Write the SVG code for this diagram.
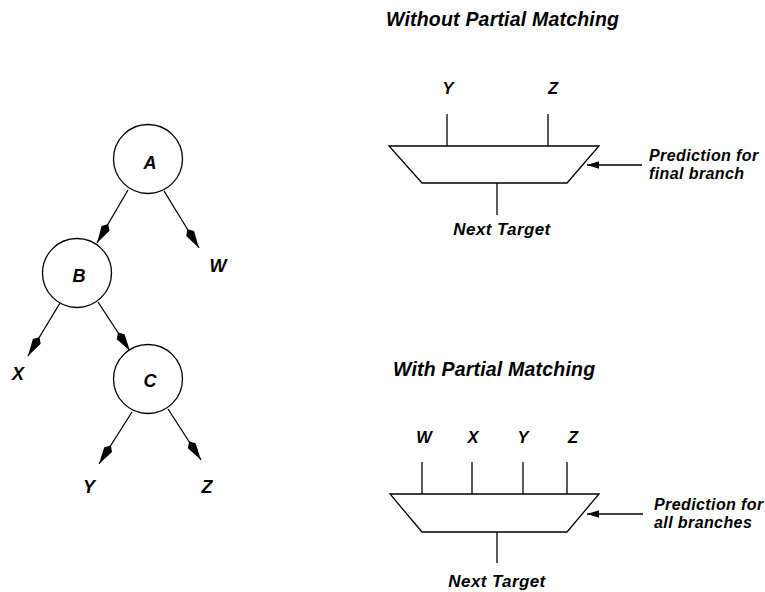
<svg xmlns="http://www.w3.org/2000/svg" width="765" height="592" viewBox="0 0 765 592">
  <style>
    .bg { fill: #ffffff; }
    .node { fill: #ffffff; stroke: #000000; stroke-width: 1.3; }
    .edge { fill: none; stroke: #000000; stroke-width: 1.3; }
    .mux { fill: #ffffff; stroke: #000000; stroke-width: 1.3; }
    text { font-family: "Liberation Sans", Arial, Helvetica, sans-serif; font-weight: bold; font-style: italic; fill: #000000; }
    .title { font-size: 19.5px; letter-spacing: 0.2px; }
    .label { font-size: 16px; letter-spacing: 0.4px; }
    .out { font-size: 17px; letter-spacing: 0.4px; text-anchor: middle; }
    .leaf { font-size: 18px; text-anchor: middle; }
    .pin { font-size: 16.5px; text-anchor: middle; }
  </style>
  <defs>
    <!-- kite-shaped filled head used on the tree edges -->
    <marker id="kite" markerUnits="userSpaceOnUse" viewBox="-23 -6 24 12" refX="0" refY="0" markerWidth="24" markerHeight="12" orient="auto" overflow="visible">
      <path d="M0,0 L-17,-4.6 L-22,0 L-17,4.6 Z" fill="#000000"/>
    </marker>
    <!-- plain filled triangle for the select inputs -->
    <marker id="tri" markerUnits="userSpaceOnUse" viewBox="-13 -5 14 10" refX="0" refY="0" markerWidth="14" markerHeight="10" orient="auto" overflow="visible">
      <path d="M0,0 L-12,-3.8 L-12,3.8 Z" fill="#000000"/>
    </marker>
  </defs>

  <rect class="bg" x="0" y="0" width="765" height="592"/>

  <!-- branch tree: connectors -->
  <g id="tree-edges">
    <line class="edge" x1="128" y1="190" x2="97" y2="243" marker-end="url(#kite)"/>
    <line class="edge" x1="164" y1="191" x2="199" y2="248" marker-end="url(#kite)"/>
    <line class="edge" x1="60" y1="303" x2="28" y2="356" marker-end="url(#kite)"/>
    <line class="edge" x1="98" y1="302" x2="130" y2="351" marker-end="url(#kite)"/>
    <line class="edge" x1="132" y1="412" x2="99" y2="464" marker-end="url(#kite)"/>
    <line class="edge" x1="168" y1="409" x2="201" y2="460" marker-end="url(#kite)"/>
  </g>

  <!-- branch tree: nodes -->
  <g id="node-A">
    <circle class="node" cx="148" cy="159" r="34.5"/>
    <text class="leaf" x="150" y="169">A</text>
  </g>
  <g id="node-B">
    <circle class="node" cx="77" cy="273" r="34.5"/>
    <text class="leaf" x="79" y="282">B</text>
  </g>
  <g id="node-C">
    <circle class="node" cx="148" cy="379" r="34.5"/>
    <text class="leaf" x="150" y="387">C</text>
  </g>
  <g id="leaf-W"><text class="leaf" x="218" y="272">W</text></g>
  <g id="leaf-X"><text class="leaf" x="18" y="380">X</text></g>
  <g id="leaf-Y"><text class="leaf" x="89" y="493">Y</text></g>
  <g id="leaf-Z"><text class="leaf" x="207" y="493">Z</text></g>

  <!-- selector without partial matching -->
  <g id="mux-final">
    <text class="title" x="386" y="26">Without Partial Matching</text>
    <g id="mux-final-wires">
      <line class="edge" x1="447" y1="114" x2="447" y2="146"/>
      <line class="edge" x1="548" y1="114" x2="548" y2="146"/>
      <line class="edge" x1="497" y1="183" x2="497" y2="215"/>
      <line class="edge" x1="642" y1="165" x2="587" y2="165" marker-end="url(#tri)"/>
    </g>
    <polygon class="mux" points="389,146 599,146 567,183 422,183"/>
    <text class="pin" x="448" y="94">Y</text>
    <text class="pin" x="553" y="94">Z</text>
    <text class="label" x="649" y="161">Prediction for</text>
    <text class="label" x="649" y="179">final branch</text>
    <text class="out" x="502" y="235">Next Target</text>
  </g>

  <!-- selector with partial matching -->
  <g id="mux-all">
    <text class="title" x="393" y="376">With Partial Matching</text>
    <g id="mux-all-wires">
      <line class="edge" x1="422" y1="462" x2="422" y2="494"/>
      <line class="edge" x1="472" y1="462" x2="472" y2="494"/>
      <line class="edge" x1="523" y1="462" x2="523" y2="494"/>
      <line class="edge" x1="567" y1="462" x2="567" y2="494"/>
      <line class="edge" x1="497" y1="532" x2="497" y2="563"/>
      <line class="edge" x1="643" y1="514" x2="587" y2="514" marker-end="url(#tri)"/>
    </g>
    <polygon class="mux" points="390,494 599,494 567,532 422,532"/>
    <text class="pin" x="424" y="443">W</text>
    <text class="pin" x="473" y="443">X</text>
    <text class="pin" x="523" y="443">Y</text>
    <text class="pin" x="573" y="443">Z</text>
    <text class="label" x="654" y="510">Prediction for</text>
    <text class="label" x="654" y="528">all branches</text>
    <text class="out" x="497" y="587">Next Target</text>
  </g>
</svg>
